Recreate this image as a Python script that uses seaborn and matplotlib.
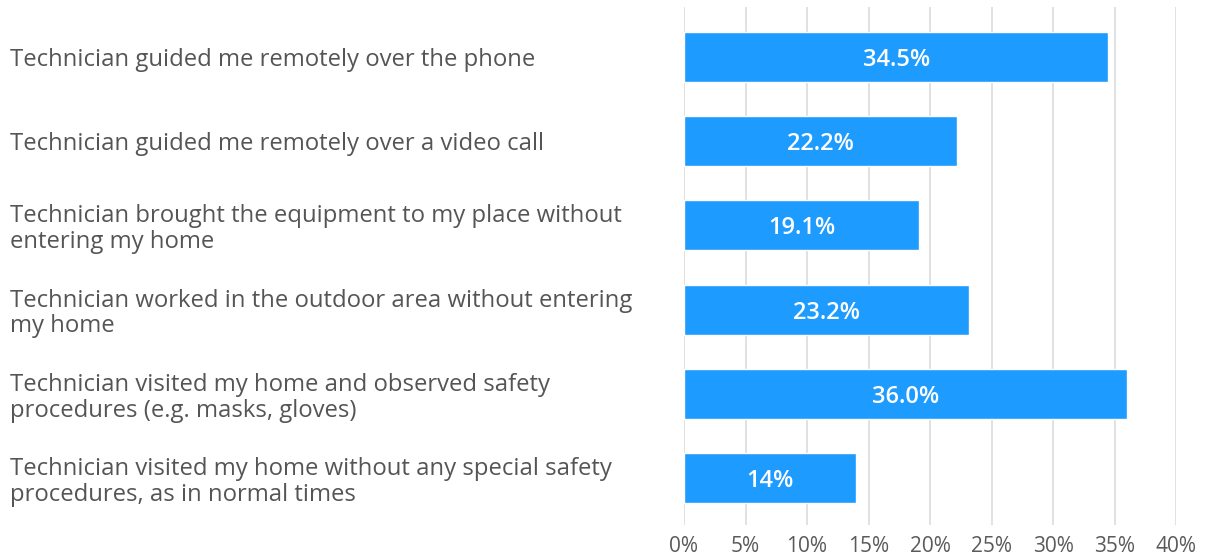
import matplotlib
matplotlib.use("Agg")
import matplotlib.pyplot as plt
import seaborn as sns
import pandas as pd

categories = [
    "Technician guided me remotely over the phone",
    "Technician guided me remotely over a video call",
    "Technician brought the equipment to my place without\nentering my home",
    "Technician worked in the outdoor area without entering\nmy home",
    "Technician visited my home and observed safety\nprocedures (e.g. masks, gloves)",
    "Technician visited my home without any special safety\nprocedures, as in normal times",
]
values = [34.5, 22.2, 19.1, 23.2, 36.0, 14]
bar_labels = ["34.5%", "22.2%", "19.1%", "23.2%", "36.0%", "14%"]
ticks = [0, 5, 10, 15, 20, 25, 30, 35, 40]
tick_labels = ["0%", "5%", "10%", "15%", "20%", "25%", "30%", "35%", "40%"]

sns.set_style("white")
plt.rcParams["font.family"] = ["Open Sans", "DejaVu Sans"]

W, H, DPI = 1211, 556, 100
fig = plt.figure(figsize=(W / DPI, H / DPI), dpi=DPI)
left, right, top, bottom = 684, 1176, 7, 525
ax = fig.add_axes([left / W, 1 - bottom / H, (right - left) / W, (bottom - top) / H])

df = pd.DataFrame({"cat": categories, "val": values})
sns.barplot(data=df, x="val", y="cat", color="#1E9BFF", saturation=1, width=0.594, ax=ax, zorder=3)

ax.set_xlim(0, 40)
ax.set_ylim(5 + 0.558, -0.594)
ax.set_xticks(ticks)
ax.set_xticklabels(tick_labels, fontsize=15, color="#5a5a5a")
ax.grid(axis="x", color="#dcdcdc", linewidth=1.2, zorder=0)
ax.set_axisbelow(True)
for s in ax.spines.values():
    s.set_visible(False)
ax.tick_params(axis="x", length=0, pad=8)
ax.tick_params(axis="y", length=0)
ax.set_xlabel("")
ax.set_ylabel("")
ax.set_yticks(range(len(categories)))
ax.set_yticklabels(categories, fontsize=17.2, color="#555555", ha="left", linespacing=1.1)
pad_pt = (left - 10) * 72 / DPI
ax.tick_params(axis="y", pad=pad_pt)

for i, (v, lab) in enumerate(zip(values, bar_labels)):
    ax.text(v / 2, i, lab, ha="center", va="center_baseline", color="white",
            fontsize=17, fontweight="semibold", zorder=4)

fig.savefig("out.png", dpi=DPI)
